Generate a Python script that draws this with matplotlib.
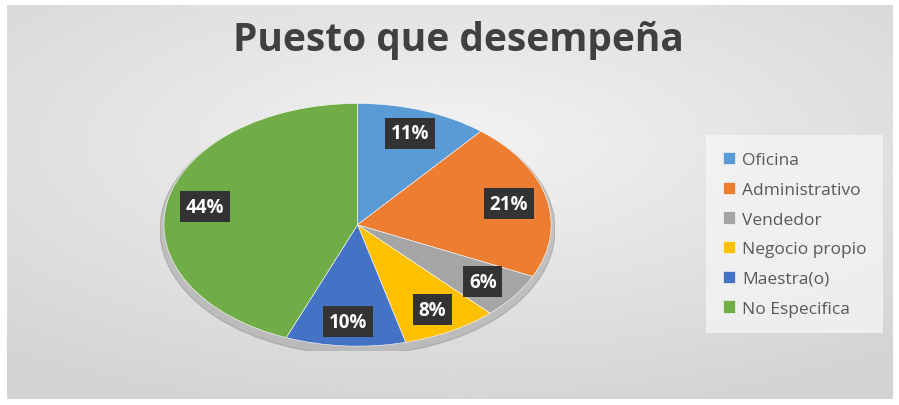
import numpy as np
import matplotlib.pyplot as plt
from matplotlib.patches import Ellipse

labels = ['Oficina', 'Administrativo', 'Vendedor', 'Negocio propio', 'Maestra(o)', 'No Especifica']
values = [11, 21, 6, 8, 10, 44]
colors = ['#5B9BD5', '#ED7D31', '#A5A5A5', '#FFC000', '#4472C4', '#70AD47']

plt.rcParams['font.family'] = ['Open Sans', 'DejaVu Sans']

W, H = 899, 406
fig = plt.figure(figsize=(W / 100, H / 100), dpi=100)
fig.patch.set_facecolor('white')

# gray radial gradient background
bg = fig.add_axes([7 / W, 6 / H, 886 / W, 394 / H])
yy, xx = np.mgrid[-1:1:200j, -1:1:400j]
rr = np.sqrt((xx * 0.9) ** 2 + (yy + 0.3) ** 2)
bg.imshow(0.95 - 0.12 * np.clip(rr, 0, 1.4) / 1.4, cmap='gray', vmin=0, vmax=1,
          aspect='auto', extent=[0, 1, 0, 1])
bg.set_axis_off()

fig.text(458 / W, 1 - 41 / H, 'Puesto que desempeña', ha='center', va='center',
         fontsize=28, fontweight='bold', color='#404040')

ax = fig.add_axes([160 / W, 54 / H, 395 / W, 250 / H])
ax.add_patch(Ellipse((0.0, -0.04), 2.04, 2.06, color='#7f7f7f', alpha=0.35, zorder=0))
wedges, texts, autotexts = ax.pie(
    values, colors=colors, startangle=90, counterclock=False,
    autopct='%d%%', pctdistance=0.8,
    wedgeprops=dict(edgecolor='white', linewidth=0.4),
    textprops=dict(color='white', fontsize=13.5, fontweight='bold'))
for t in autotexts:
    t.set_bbox(dict(boxstyle='square,pad=0.3', facecolor='#333333', edgecolor='none'))
ax.set_aspect('auto')
ax.set_xlim(-1.02, 1.02)
ax.set_ylim(-1.04, 1.02)

leg = fig.legend(wedges, labels, loc='upper left', bbox_to_anchor=(703 / W, 1 - 133 / H),
                 frameon=True, fontsize=12.5, handlelength=0.7, handleheight=0.7,
                 handletextpad=0.4, labelspacing=0.78, borderpad=0.65,
                 labelcolor='#595959')
leg.get_frame().set_facecolor('#f4f4f4')
leg.get_frame().set_edgecolor('none')
leg.get_frame().set_boxstyle('square')

fig.savefig('out.png', dpi=100)
